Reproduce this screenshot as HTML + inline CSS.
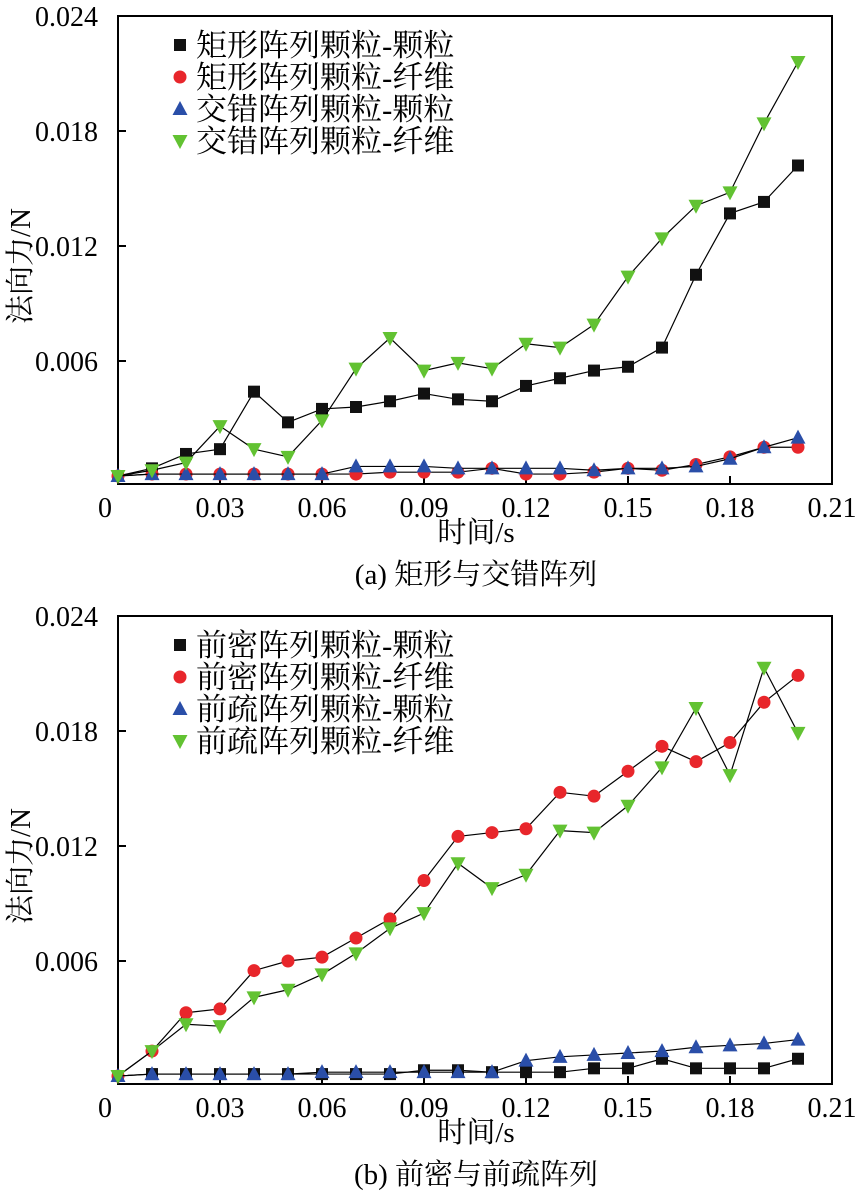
<!DOCTYPE html>
<html><head><meta charset="utf-8"><style>
html,body{margin:0;padding:0;background:#fff;}
svg{display:block;font-family:"Liberation Serif","Noto Serif CJK SC",serif;}
</style></head><body>
<svg id="svg" width="861" height="1198" viewBox="0 0 861 1198" xmlns="http://www.w3.org/2000/svg"></svg>
<script>
const times=[0,0.01,0.02,0.03,0.04,0.05,0.06,0.07,0.08,0.09,0.10,0.11,0.12,0.13,0.14,0.15,0.16,0.17,0.18,0.19,0.20];
const xTicks=["0","0.03","0.06","0.09","0.12","0.15","0.18","0.21"];
const xTickVals=[0,0.03,0.06,0.09,0.12,0.15,0.18,0.21];
const yTicks=["0.006","0.012","0.018","0.024"];
const yTickVals=[0.006,0.012,0.018,0.024];
const aRectP=[0,0.0004,0.00115,0.0014,0.0044,0.0028,0.0035,0.0036,0.0039,0.0043,0.004,0.0039,0.0047,0.0051,0.0055,0.0057,0.0067,0.0105,0.0137,0.0143,0.0162];
const aRectF=[0,0.0001,0.0001,0.0001,0.0001,0.0001,0.0001,0.0001,0.0002,0.0002,0.0002,0.0004,0.0001,0.0001,0.0002,0.0004,0.0003,0.0006,0.001,0.0015,0.0015];
const aStagP=[0,0.0001,0.0001,0.0001,0.0001,0.0001,0.0001,0.0005,0.0005,0.0005,0.0004,0.0004,0.0004,0.0004,0.0003,0.0004,0.0004,0.0005,0.0009,0.0015,0.002];
const aStagF=[0,0.0003,0.0007,0.0026,0.0014,0.001,0.0029,0.0056,0.0072,0.0055,0.0059,0.0056,0.0069,0.0067,0.0079,0.0104,0.0124,0.0141,0.0148,0.0184,0.0216];
const bDenseP=[0,0.0001,0.0001,0.0001,0.0001,0.0001,0.0001,0.0001,0.0001,0.0003,0.0003,0.0002,0.0002,0.0002,0.0004,0.0004,0.0009,0.0004,0.0004,0.0004,0.0009];
const bDenseF=[0,0.0013,0.0033,0.0035,0.0055,0.006,0.0062,0.0072,0.0082,0.0102,0.0125,0.0127,0.0129,0.0148,0.0146,0.0159,0.0172,0.0164,0.0174,0.0195,0.0209];
const bSparseP=[0,0.0001,0.0001,0.0001,0.0001,0.0001,0.0002,0.0002,0.0002,0.0002,0.0002,0.0002,0.0008,0.001,0.0011,0.0012,0.0013,0.0015,0.0016,0.0017,0.0019];
const bSparseF=[0,0.0013,0.0027,0.0026,0.0041,0.0045,0.0053,0.0064,0.0077,0.0085,0.0111,0.0098,0.0105,0.0128,0.0127,0.0141,0.0161,0.0192,0.0157,0.0213,0.0179];
const NS="http://www.w3.org/2000/svg";
const svg=document.getElementById('svg');
function mk(tag,attrs,parent){const e=document.createElementNS(NS,tag);for(const k in attrs)e.setAttribute(k,attrs[k]);(parent||svg).appendChild(e);return e;}
function chart(off,id,series,legends,caption){
  const L=118,R=832,T=16+off,B=484+off,Y0=476+off;
  const xs=t=>L+t*3400;
  const ys=v=>Y0-v/0.006*115;
  const g=mk('g',{});
  
  
  const box=mk('rect',{x:L,y:T,width:R-L,height:B-T,fill:'none',stroke:'#000','stroke-width':2},g);
  
  xTickVals.forEach((v,i)=>{const x=xs(v);
    if(i>0&&i<7)mk('line',{x1:x,y1:B,x2:x,y2:B-8,stroke:'#000','stroke-width':2},g);
    const t=mk('text',{x:i==0?L-13:x,y:B+33,'font-size':28,'text-anchor':'middle'},g);t.textContent=xTicks[i];
    });
  yTickVals.forEach((v,i)=>{const y=ys(v);
    mk('line',{x1:L,y1:y,x2:L+8,y2:y,stroke:'#000','stroke-width':2},g);
    const t=mk('text',{x:L-20,y:y+10,'font-size':28,'text-anchor':'end'},g);t.textContent=yTicks[i];
    });
  const yl=mk('text',{x:0,y:0,'font-size':29,'text-anchor':'middle',transform:`translate(30,${T+250}) rotate(-90)`},g);yl.textContent='法向力/N';
  
  const xl=mk('text',{x:476,y:B+58,'font-size':29,'text-anchor':'middle'},g);xl.textContent='时间/s';
  
  const cp=mk('text',{x:476,y:B+100,'font-size':29,'text-anchor':'middle'},g);cp.textContent=caption;
  
  const shapes=['sq','ci','up','dn'],cols=['#111','#e8262b','#2a4ea8','#62c232'];
  function marker(kind,x,y,p){
    if(kind=='sq')return mk('rect',{x:x-6,y:y-6,width:12,height:12,fill:cols[0]},p);
    if(kind=='ci')return mk('circle',{cx:x,cy:y,r:6.5,fill:cols[1]},p);
    if(kind=='up')return mk('polygon',{points:`${x},${y-8} ${x-7.5},${y+6} ${x+7.5},${y+6}`,fill:cols[2]},p);
    return mk('polygon',{points:`${x},${y+8} ${x-7.5},${y-6} ${x+7.5},${y-6}`,fill:cols[3]},p);
  }
  series.forEach((s,si)=>{
    const sg=mk('g',{},g);
    const pl=mk('polyline',{points:s.map((v,i)=>xs(times[i])+','+ys(v)).join(' '),fill:'none',stroke:'#000','stroke-width':1.2},sg);
    
    s.forEach((v,i)=>{const m=marker(shapes[si],xs(times[i]),ys(v),sg);
      });
  });
  legends.forEach((t,i)=>{const y=T+29+i*32;
    const m=marker(shapes[i],180,y,g);
    const tx=mk('text',{x:196,y:y+11,'font-size':31},g);tx.textContent=t;
    });
}
chart(0,'chart-a',[aRectP,aRectF,aStagP,aStagF],['矩形阵列颗粒-颗粒','矩形阵列颗粒-纤维','交错阵列颗粒-颗粒','交错阵列颗粒-纤维'],'(a) 矩形与交错阵列');
chart(600,'chart-b',[bDenseP,bDenseF,bSparseP,bSparseF],['前密阵列颗粒-颗粒','前密阵列颗粒-纤维','前疏阵列颗粒-颗粒','前疏阵列颗粒-纤维'],'(b) 前密与前疏阵列');
</script>
</body></html>
